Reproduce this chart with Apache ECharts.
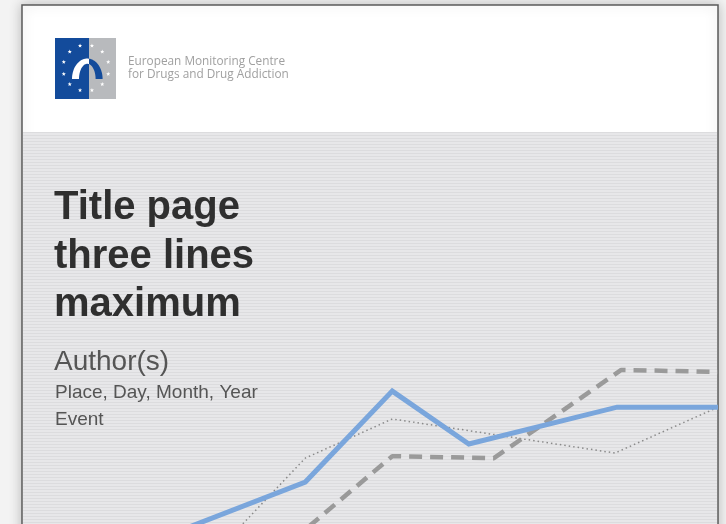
<!DOCTYPE html>
<html>
<head>
<meta charset="utf-8">
<script src="https://cdn.jsdelivr.net/npm/echarts@6/dist/echarts.min.js"></script>
<style>
html,body{margin:0;padding:0;background:#f3f3f3;}
#chart{width:726px;height:524px;}
</style>
</head>
<body>
<div id="chart"></div>
<script>
// Decorative series data: [x, y] in abstract units (x 0..100 across slide body, y 0..100 up)
var blueLine   = [[19.6,-3.8],[40.7,10.7],[53.2,33.9],[64.2,20.4],[85.5,29.8],[100,29.8]];
var dashedLine = [[38.9,-4.1],[53.2,17.3],[67.8,16.8],[86.1,39.3],[100,38.8]];
var dottedLine = [[29.5,-4.1],[40.7,16.8],[53.2,26.8],[85.2,18.1],[100,29.8]];

var titleLines = ['Title page', 'three lines', 'maximum'];
var authorText = 'Author(s)';
var placeText = 'Place, Day, Month, Year';
var eventText = 'Event';
var orgLines = ['European Monitoring Centre', 'for Drugs and Drug Addiction'];

// stripe pattern
var pc = document.createElement('canvas');
pc.width = 4; pc.height = 3;
var pctx = pc.getContext('2d');
pctx.fillStyle = '#e7e7e9'; pctx.fillRect(0,0,4,3);
pctx.fillStyle = '#dcdcde'; pctx.fillRect(0,0,4,1);

function starPoints(cx, cy, r) {
  var pts = [];
  for (var i = 0; i < 10; i++) {
    var a = -Math.PI/2 + i*Math.PI/5;
    var rr = i % 2 === 0 ? r : r*0.42;
    pts.push([cx + rr*Math.cos(a), cy + rr*Math.sin(a)]);
  }
  return pts;
}
// logo arch: outer & inner half-ellipses, split at x = 89 (blue/gray boundary)
var AC = 87.3, AB = 79, ORX = 15.3, ORY = 20.5, IRX = 8.3, IRY = 15.2, SPLIT = 89;
function archPart(right) {
  var pts = [], i, a;
  var ao = Math.acos((SPLIT - AC)/ORX), ai = Math.acos((SPLIT - AC)/IRX);
  var n = 20;
  if (right) {
    for (i = 0; i <= n; i++) { a = ao - i*ao/n; pts.push([AC + ORX*Math.cos(a), AB - ORY*Math.sin(a)]); }
    for (i = 0; i <= n; i++) { a = i*ai/n; pts.push([AC + IRX*Math.cos(a), AB - IRY*Math.sin(a)]); }
  } else {
    for (i = 0; i <= n; i++) { a = Math.PI - i*(Math.PI - ao)/n; pts.push([AC + ORX*Math.cos(a), AB - ORY*Math.sin(a)]); }
    for (i = 0; i <= n; i++) { a = ai + i*(Math.PI - ai)/n; pts.push([AC + IRX*Math.cos(a), AB - IRY*Math.sin(a)]); }
  }
  return pts;
}

var graphics = [];
graphics.push({type:'rect', shape:{x:22,y:5,width:696,height:540}, style:{fill:'#ffffff', stroke:'#5a5a5a', lineWidth:1.5, shadowBlur:12, shadowColor:'rgba(0,0,0,0.22)'}, z:0});
graphics.push({type:'rect', shape:{x:23,y:132,width:694,height:400}, style:{fill:{image:pc, repeat:'repeat'}}, z:1});
graphics.push({type:'rect', shape:{x:55,y:38,width:34,height:61}, style:{fill:'#134b9b'}, z:2});
graphics.push({type:'rect', shape:{x:89,y:38,width:27,height:61}, style:{fill:'#b8babd'}, z:2});
for (var k = 0; k < 12; k++) {
  var ang = (15 + 30*k) * Math.PI/180;
  var sx = 86 + 23*Math.sin(ang), sy = 68 - 23*Math.cos(ang);
  graphics.push({type:'polygon', shape:{points:starPoints(sx, sy, 2.2)}, style:{fill:'#ffffff'}, z:3});
}
graphics.push({type:'polygon', shape:{points:archPart(false)}, style:{fill:'#ffffff'}, z:3});
graphics.push({type:'polygon', shape:{points:archPart(true)}, style:{fill:'#134b9b'}, z:3});
graphics.push({type:'text', x:128, y:62, style:{text:orgLines[0], fontFamily:'Open Sans', fontSize:11.8, fill:'#a0a0a0', verticalAlign:'middle'}, z:3});
graphics.push({type:'text', x:128, y:75, style:{text:orgLines[1], fontFamily:'Open Sans', fontSize:11.8, fill:'#a0a0a0', verticalAlign:'middle'}, z:3});
var tY = [208, 257, 305];
for (var t = 0; t < titleLines.length; t++) {
  graphics.push({type:'text', x:54, y:tY[t], style:{text:titleLines[t], fontFamily:'Liberation Sans', fontWeight:'bold', fontSize:40, fill:'#2f2f2f', verticalAlign:'middle'}, z:3});
}
graphics.push({type:'text', x:54, y:362, style:{text:authorText, fontFamily:'Liberation Sans', fontSize:28, fill:'#555555', verticalAlign:'middle'}, z:3});
graphics.push({type:'text', x:55, y:393, style:{text:placeText, fontFamily:'Liberation Sans', fontSize:19, fill:'#555555', verticalAlign:'middle'}, z:3});
graphics.push({type:'text', x:55, y:420, style:{text:eventText, fontFamily:'Liberation Sans', fontSize:19, fill:'#555555', verticalAlign:'middle'}, z:3});

var chart = echarts.init(document.getElementById('chart'));
chart.setOption({
  backgroundColor: '#f3f3f3',
  animation: false,
  graphic: {elements: graphics},
  grid: {left: 22, right: 8, top: 132, bottom: 0},
  xAxis: {type:'value', min:0, max:100, show:false},
  yAxis: {type:'value', min:0, max:100, show:false},
  series: [
    {type:'line', data: dottedLine, showSymbol:false, z:5, lineStyle:{color:'#8a8a8a', width:1.5, type:[1.5,3]}},
    {type:'line', data: dashedLine, showSymbol:false, z:6, lineStyle:{color:'#9a9a9a', width:4.5, type:[13,8]}},
    {type:'line', data: blueLine, showSymbol:false, z:7, lineStyle:{color:'#7aa6dc', width:5, join:'miter'}}
  ]
});
</script>
</body>
</html>
